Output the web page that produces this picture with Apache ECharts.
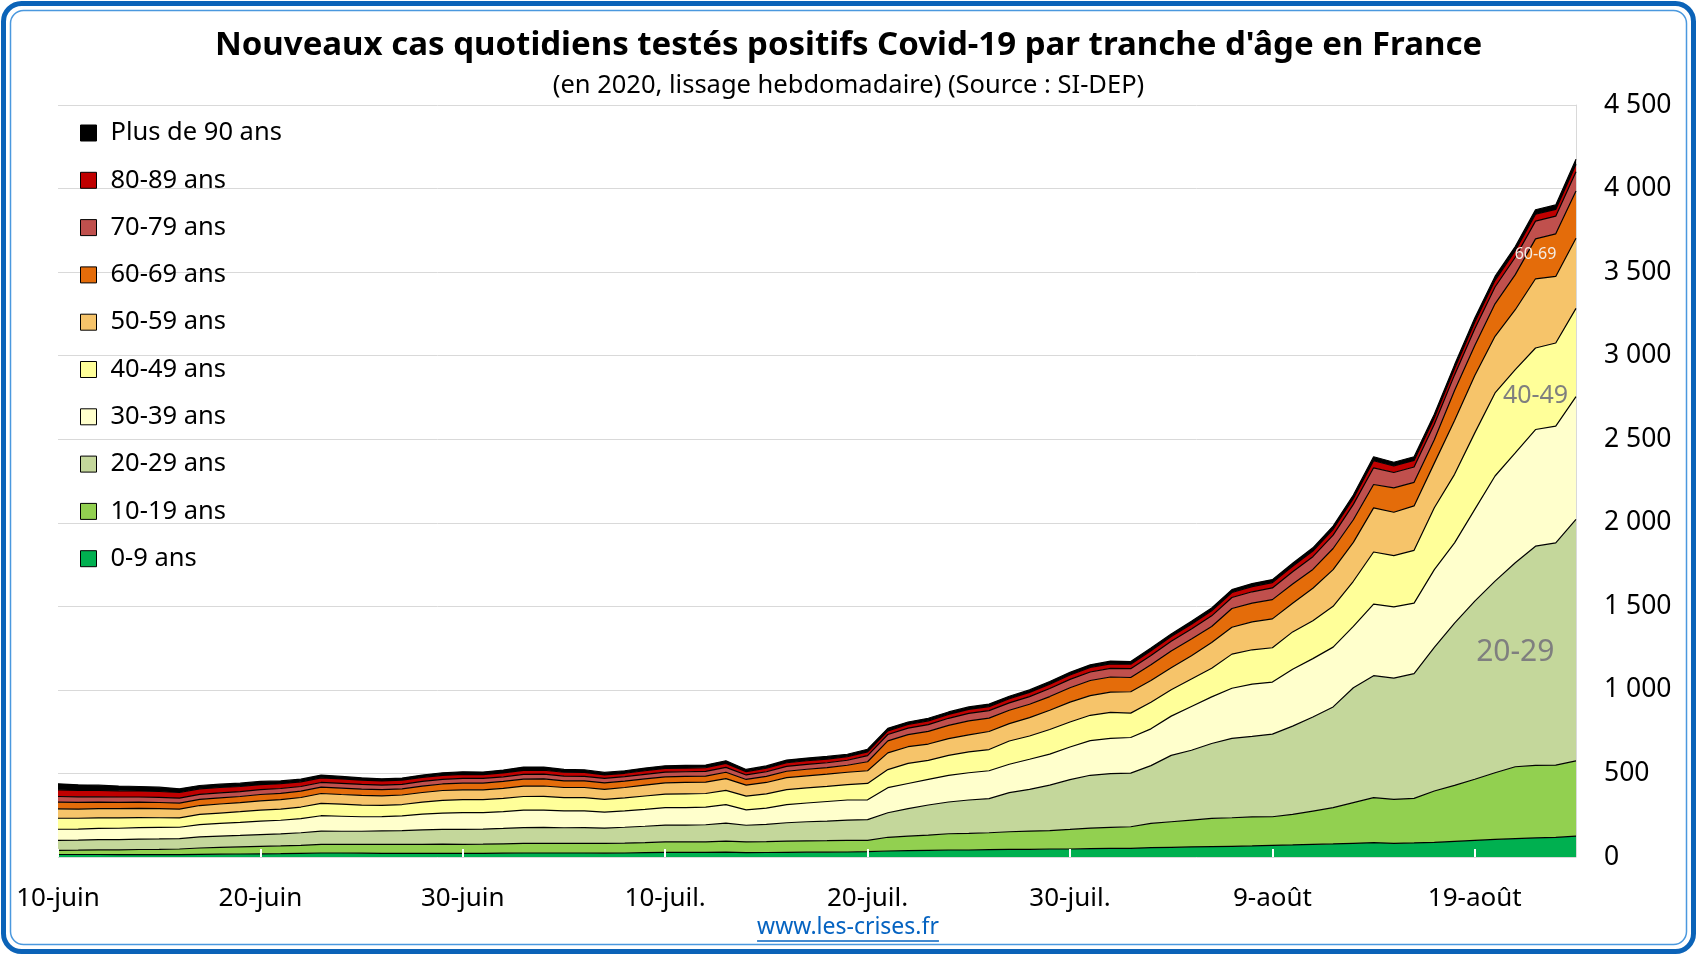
<!DOCTYPE html>
<html>
<head>
<meta charset="utf-8">
<script src="https://cdn.jsdelivr.net/npm/echarts@6/dist/echarts.min.js"></script>
<style>
html,body{margin:0;padding:0;background:#fff;}
#chart{width:1697px;height:955px;}
</style>
</head>
<body>
<div id="chart"></div>
<script>
const categories = [
"10-juin","11-juin","12-juin","13-juin","14-juin","15-juin","16-juin","17-juin","18-juin","19-juin",
"20-juin","21-juin","22-juin","23-juin","24-juin","25-juin","26-juin","27-juin","28-juin","29-juin",
"30-juin","1-juil.","2-juil.","3-juil.","4-juil.","5-juil.","6-juil.","7-juil.","8-juil.","9-juil.",
"10-juil.","11-juil.","12-juil.","13-juil.","14-juil.","15-juil.","16-juil.","17-juil.","18-juil.","19-juil.",
"20-juil.","21-juil.","22-juil.","23-juil.","24-juil.","25-juil.","26-juil.","27-juil.","28-juil.","29-juil.",
"30-juil.","31-juil.","1-août","2-août","3-août","4-août","5-août","6-août","7-août","8-août",
"9-août","10-août","11-août","12-août","13-août","14-août","15-août","16-août","17-août","18-août",
"19-août","20-août","21-août","22-août","23-août","24-août"];

const ages0_9 = [15,15,15,14,14,14,14,16,17,18, 19,20,22,24,24,23,22,22,22,22, 22,22,23,24,24,24,24,23,24,26, 28,28,28,29,26,27,28,29,29,30, 32,36,38,40,42,42,44,46,46,48, 48,50,52,52,56,58,60,62,64,66, 70,72,75,78,82,86,82,84,88,94, 100,105,110,115,118,125];
const ages10_19 = [25,26,28,29,31,32,34,38,40,42, 44,46,48,52,52,53,54,54,54,55, 54,55,56,57,58,58,58,58,59,60, 62,62,63,66,64,65,67,68,69,70, 68,82,87,91,97,99,101,105,109,110, 117,123,125,129,145,153,161,169,171,174, 171,183,200,217,243,269,263,267,307,335, 365,399,430,433,432,450];
const ages20_29 = [60,60,61,61,62,62,62,66,68,69, 71,72,75,79,78,78,80,82,86,88, 89,90,92,95,95,93,94,92,95,98, 101,101,102,108,100,103,110,114,117,121, 124,147,165,180,190,200,204,234,250,272, 298,316,322,321,346,397,418,448,475,482, 494,528,563,603,688,730,725,746,860,971, 1066,1147,1221,1312,1330,1445];
const ages30_39 = [66,66,67,68,69,69,68,74,76,78, 81,82,85,92,90,87,86,88,94,98, 100,99,101,104,104,101,100,96,98,101, 104,105,105,110,92,98,108,112,117,120, 118,150,150,153,159,163,167,170,180,186, 195,207,211,213,220,235,262,279,300,313, 312,341,349,358,367,428,427,422,465,480, 549,629,657,698,698,735];
const ages40_49 = [66,65,63,62,60,58,56,61,62,64, 66,67,69,74,72,70,67,68,72,76, 78,77,79,82,82,79,79,76,78,80, 81,82,82,86,82,85,90,91,91,92, 98,108,120,114,120,125,127,139,139,147, 150,152,156,146,159,158,164,172,204,205, 205,223,227,244,270,312,306,316,370,410, 458,497,498,488,498,528];
const ages50_59 = [56,55,55,55,55,54,52,53,54,54, 55,56,57,59,58,58,57,57,58,59, 59,59,60,62,62,61,61,60,62,65, 68,68,68,70,66,68,72,72,73,74, 76,100,100,98,100,102,108,104,110,115, 119,118,121,128,130,132,139,154,161,167, 173,172,194,220,233,264,260,266,267,322, 343,339,359,414,398,420];
const ages60_69 = [40,40,39,38,37,37,36,37,37,37, 38,38,38,38,38,37,37,37,38,39, 40,40,41,42,42,40,39,38,38,37, 36,36,36,38,34,36,38,39,39,42, 54,72,72,76,80,84,80,80,80,82, 86,90,90,85,94,100,100,95,112,112, 115,115,113,126,135,140,146,141,140,179, 180,194,210,239,255,283];
const ages70_79 = [34,33,32,32,31,31,30,30,30,29, 29,29,28,28,28,28,27,27,28,28, 28,28,28,29,29,28,28,27,27,28, 28,28,28,29,27,28,29,29,29,30, 37,38,39,40,42,44,45,44,46,48, 50,51,52,53,56,58,60,64,66,68, 70,73,76,80,92,100,92,92,93,94, 100,101,104,106,106,115];
const ages80_89 = [40,39,38,37,36,35,34,33,32,31, 30,29,28,28,27,26,25,25,25,24, 24,23,23,23,23,23,23,21,20,21, 22,22,22,24,20,21,22,22,22,21, 22,22,22,23,23,24,24,25,25,26, 26,27,27,27,28,28,29,30,30,31, 32,33,34,35,36,42,39,39,38,38, 40,40,40,41,40,45];
const ages90plus = [36,33,32,29,27,26,22,20,20,20, 19,16,16,16,15,14,13,12,13,15, 16,15,17,20,19,17,16,15,15,16, 16,16,16,16,13,14,16,16,16,15, 16,15,15,15,15,15,15,15,15,16, 16,16,16,16,16,16,17,17,17,18, 18,18,19,19,20,24,22,22,22,22, 24,23,24,27,27,30];

const seriesNames = ["0-9 ans","10-19 ans","20-29 ans","30-39 ans","40-49 ans","50-59 ans","60-69 ans","70-79 ans","80-89 ans","Plus de 90 ans"];
const seriesData = [ages0_9,ages10_19,ages20_29,ages30_39,ages40_49,ages50_59,ages60_69,ages70_79,ages80_89,ages90plus];
const seriesColors = ["#00B050","#92D050","#C4D79B","#FFFFCC","#FFFF99","#F6C46A","#E46C0A","#C0504D","#C00000","#000000"];
const yTicks = {min:0, max:4500, interval:500};
const insideLabels = [
  {text:"60-69", idx:73.4, val:3606, size:16, color:"#f4ede6"},
  {text:"40-49", idx:73.1, val:2757, size:25, color:"#7f7f7f"},
  {text:"20-29", idx:72.0, val:1226, size:30, color:"#7f7f7f"}
];

const FONT = '"Noto Sans", "DejaVu Sans", sans-serif';
const chart = echarts.init(document.getElementById('chart'), null, {renderer:'canvas'});

function fmtNum(v){
  if (v >= 1000){ const r = v % 1000; return Math.floor(v/1000) + ' ' + String(r).padStart(3,'0'); }
  return String(v);
}

const series = seriesNames.map((n,i)=>({
  name:n, type:'line', stack:'total', data:seriesData[i],
  symbol:'none', smooth:false,
  color:seriesColors[i],
  itemStyle:{color:seriesColors[i], borderColor:'#000', borderWidth:1},
  lineStyle:{color:'#000', width:1.2},
  areaStyle:{color:seriesColors[i], opacity:1},
  emphasis:{disabled:true},
  z:2
}));

const frame = [
  {type:'rect', id:'outer', silent:true, z:100, shape:{x:3.5,y:3.5,width:1690,height:948,r:18}, style:{fill:null, stroke:'#0B63B8', lineWidth:5}},
  {type:'rect', id:'inner', silent:true, z:100, shape:{x:10.5,y:10.5,width:1676,height:934,r:13}, style:{fill:null, stroke:'#4A98DE', lineWidth:1.5}}
];

chart.setOption({
  animation:false,
  backgroundColor:'#fff',
  title:[
    {text:"Nouveaux cas quotidiens testés positifs Covid-19 par tranche d'âge en France", left:'center', top:24,
     textStyle:{fontFamily:FONT, fontWeight:'bold', fontSize:33, color:'#000'}},
    {text:"(en 2020, lissage hebdomadaire) (Source : SI-DEP)", left:'center', top:68,
     textStyle:{fontFamily:FONT, fontWeight:'normal', fontSize:25.5, color:'#000'}}
  ],
  legend:{
    orient:'vertical', left:75, top:115,
    data:seriesNames.slice().reverse(),
    icon:'rect', itemWidth:16, itemHeight:16, itemGap:21.3,
    itemStyle:{borderColor:'#000', borderWidth:1},
    textStyle:{fontFamily:FONT, fontSize:25.5, color:'#000', lineHeight:26, padding:[0,0,0,9]},
    selectedMode:false
  },
  grid:{left:58, right:121, top:105, bottom:98, containLabel:false},
  xAxis:{
    type:'category', data:categories, boundaryGap:false, z:10,
    axisLine:{show:false},
    axisTick:{show:true, inside:true, length:8, interval:9, lineStyle:{color:'#fff', width:2}},
    axisLabel:{interval:9, margin:29, fontFamily:FONT, fontSize:26, color:'#000'},
    splitLine:{show:false}
  },
  yAxis:{
    type:'value', position:'right', min:yTicks.min, max:yTicks.max, interval:yTicks.interval,
    axisLine:{show:true, lineStyle:{color:'#d9d9d9', width:1}},
    axisTick:{show:false},
    splitLine:{show:true, lineStyle:{color:'#d9d9d9', width:1}},
    axisLabel:{margin:28, align:'left', fontFamily:FONT, fontSize:26.5, color:'#000', formatter:fmtNum}
  },
  series:series,
  graphic:frame
});

// inline annotations positioned through the chart's own scales
const cvs = document.createElement('canvas').getContext('2d');
cvs.font = '23px "Noto Sans"';
const linkW = cvs.measureText('www.les-crises.fr').width;
const extra = insideLabels.map((a,i)=>{
  const p = chart.convertToPixel({xAxisIndex:0, yAxisIndex:0}, [a.idx, a.val]);
  return {type:'text', id:'lab'+i, z:50, silent:true, x:p[0], y:p[1],
    style:{text:a.text, fill:a.color, fontFamily:FONT, fontSize:a.size, align:'center', verticalAlign:'middle'}};
});
extra.push({type:'text', id:'link', z:50, x:848, y:927, style:{text:'www.les-crises.fr', fill:'#0563C1', fontFamily:FONT, fontSize:23, align:'center', verticalAlign:'middle'}});
extra.push({type:'line', id:'linkline', z:50, shape:{x1:848-linkW/2, y1:941, x2:848+linkW/2, y2:941}, style:{stroke:'#0563C1', lineWidth:1.5}});
chart.setOption({graphic:frame.concat(extra)});
</script>
</body>
</html>
